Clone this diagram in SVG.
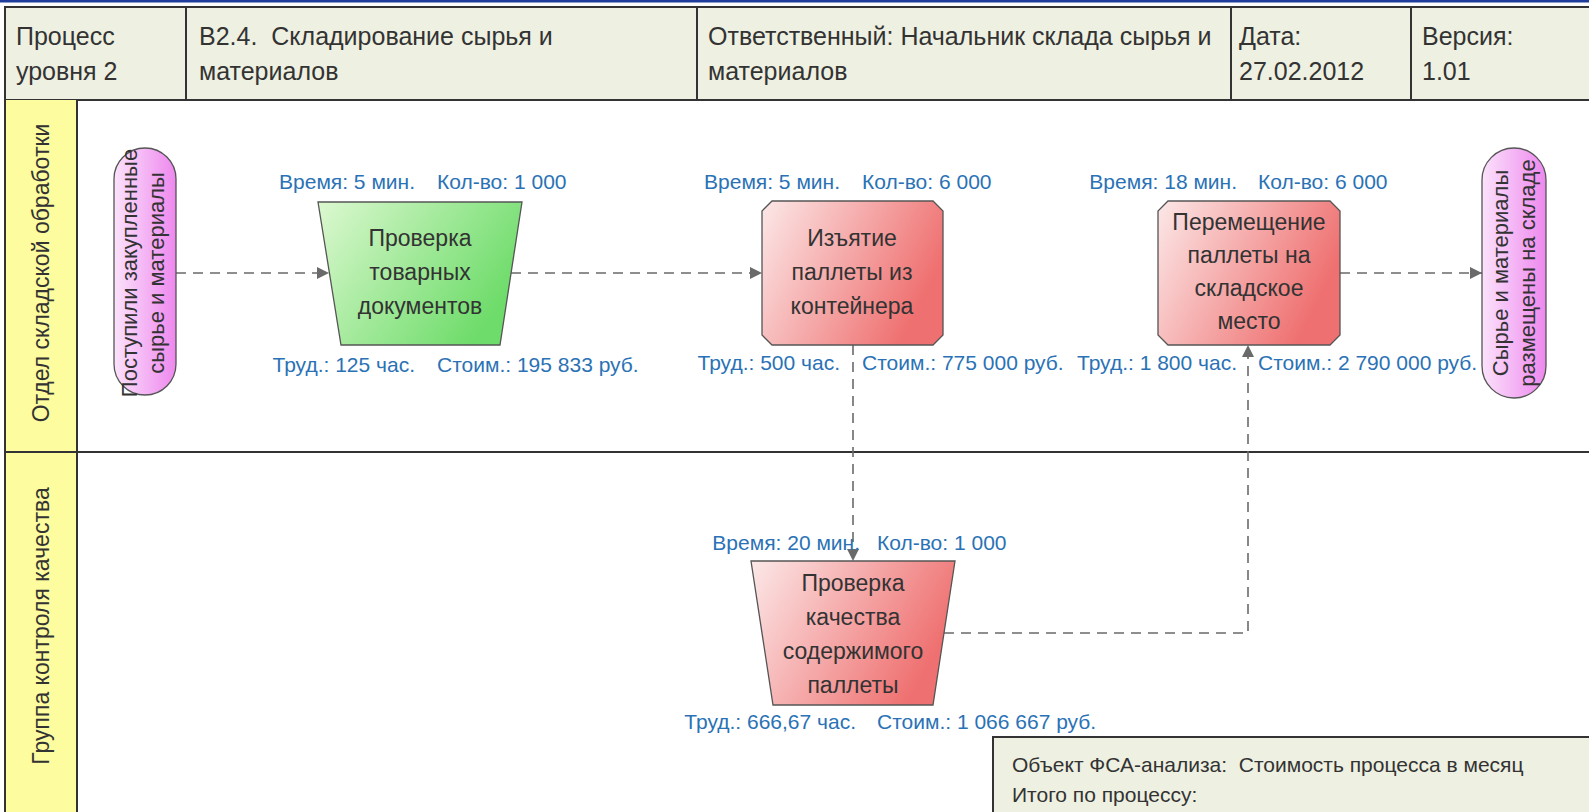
<svg xmlns="http://www.w3.org/2000/svg" width="1589" height="812" viewBox="0 0 1589 812">
<style>
  .hdr { font-family: "Liberation Sans", Arial, sans-serif; font-size: 25px; fill: #333; white-space: pre; }
  .lane { font-family: "Liberation Sans", Arial, sans-serif; font-size: 23px; fill: #333; }
  .nt { font-family: "Liberation Sans", Arial, sans-serif; font-size: 23px; fill: #333; text-anchor: middle; }
  .pt { font-family: "Liberation Sans", Arial, sans-serif; font-size: 22px; fill: #333; text-anchor: middle; }
  .lbl { font-family: "Liberation Sans", Arial, sans-serif; font-size: 21px; fill: #2a72b5; }
  .lblL { text-anchor: end; }
  .note { font-family: "Liberation Sans", Arial, sans-serif; font-size: 21px; fill: #333; white-space: pre; }
  .frame { stroke: #333; stroke-width: 2; }
  .shape { stroke: #555; stroke-width: 1.3; }
  .conn { fill: none; stroke: #6a6a6a; stroke-width: 1.6; stroke-dasharray: 10 7; }
</style>
<defs>
  <linearGradient id="gGreen" x1="0" y1="0" x2="1" y2="0.5">
    <stop offset="0" stop-color="#dcf8d0"/>
    <stop offset="1" stop-color="#6edc6a"/>
  </linearGradient>
  <linearGradient id="gRed" x1="0" y1="0" x2="1" y2="0.4">
    <stop offset="0" stop-color="#fce8e8"/>
    <stop offset="1" stop-color="#ef7070"/>
  </linearGradient>
  <linearGradient id="gPink" x1="0" y1="0" x2="1" y2="0">
    <stop offset="0" stop-color="#fbe2fb"/>
    <stop offset="1" stop-color="#ee88ee"/>
  </linearGradient>
  <marker id="arr" viewBox="0 0 10 10" refX="10" refY="5" markerWidth="12" markerHeight="12" markerUnits="userSpaceOnUse" orient="auto">
    <path d="M0,0 L10,5 L0,10 z" fill="#6a6a6a"/>
  </marker>
</defs>

<rect x="0" y="0" width="1589" height="812" fill="#ffffff"/>
<rect x="0" y="0" width="1589" height="2.5" fill="#1f3d9c"/>

<g id="header">
  <rect class="frame" x="5" y="7" width="1600" height="93" fill="#eef0e1"/>
  <line class="frame" x1="186" y1="7" x2="186" y2="100"/>
  <line class="frame" x1="697" y1="7" x2="697" y2="100"/>
  <line class="frame" x1="1231" y1="7" x2="1231" y2="100"/>
  <line class="frame" x1="1411" y1="7" x2="1411" y2="100"/>
  <text class="hdr" x="16" y="45">Процесс</text>
  <text class="hdr" x="16" y="80">уровня 2</text>
  <text class="hdr" x="199" y="45">B2.4.  Складирование сырья и</text>
  <text class="hdr" x="199" y="80">материалов</text>
  <text class="hdr" x="708" y="45">Ответственный: Начальник склада сырья и</text>
  <text class="hdr" x="708" y="80">материалов</text>
  <text class="hdr" x="1239" y="45">Дата:</text>
  <text class="hdr" x="1239" y="80">27.02.2012</text>
  <text class="hdr" x="1422" y="45">Версия:</text>
  <text class="hdr" x="1422" y="80">1.01</text>
</g>

<g id="lanes">
  <rect x="5" y="100" width="72" height="352" fill="#fdfc9e"/>
  <rect x="5" y="452" width="72" height="380" fill="#fdfc9e"/>
  <line class="frame" x1="5" y1="100" x2="5" y2="812"/>
  <line class="frame" x1="77" y1="100" x2="77" y2="812"/>
  <line class="frame" x1="5" y1="452" x2="1589" y2="452"/>
  <text class="lane" text-anchor="middle" transform="translate(49,273) rotate(-90)">Отдел складской обработки</text>
  <text class="lane" text-anchor="middle" transform="translate(49,626) rotate(-90)">Группа контроля качества</text>
</g>

<g id="connectors">
  <line class="conn" x1="176" y1="273" x2="329" y2="273" marker-end="url(#arr)"/>
  <line class="conn" x1="511" y1="273" x2="762" y2="273" marker-end="url(#arr)"/>
  <line class="conn" x1="853" y1="345" x2="853" y2="561" marker-end="url(#arr)"/>
  <polyline class="conn" points="944,633 1248,633 1248,345" marker-end="url(#arr)"/>
  <line class="conn" x1="1340" y1="273" x2="1482" y2="273" marker-end="url(#arr)"/>
</g>

<g id="start">
  <rect class="shape" x="114" y="148" width="62" height="247" rx="31" ry="31" fill="url(#gPink)"/>
  <text class="pt" transform="translate(137,273) rotate(-90)">Поступили закупленные</text>
  <text class="pt" transform="translate(164,273) rotate(-90)">сырье и материалы</text>
</g>

<g id="checkDocs">
  <polygon class="shape" points="318,202 522,202 500,345 341,345" fill="url(#gGreen)"/>
  <text class="nt" x="420" y="246">Проверка</text>
  <text class="nt" x="420" y="280">товарных</text>
  <text class="nt" x="420" y="314">документов</text>
  <text class="lbl lblL" x="415" y="189">Время: 5 мин.</text>
  <text class="lbl" x="437" y="189">Кол-во: 1 000</text>
  <text class="lbl lblL" x="415" y="372">Труд.: 125 час.</text>
  <text class="lbl" x="437" y="372">Стоим.: 195 833 руб.</text>
</g>

<g id="extract">
  <polygon class="shape" points="772,201 933,201 943,211 943,335 933,345 772,345 762,335 762,211" fill="url(#gRed)"/>
  <text class="nt" x="852" y="246">Изъятие</text>
  <text class="nt" x="852" y="280">паллеты из</text>
  <text class="nt" x="852" y="314">контейнера</text>
  <text class="lbl lblL" x="840" y="189">Время: 5 мин.</text>
  <text class="lbl" x="862" y="189">Кол-во: 6 000</text>
  <text class="lbl lblL" x="840" y="370">Труд.: 500 час.</text>
  <text class="lbl" x="862" y="370">Стоим.: 775 000 руб.</text>
</g>

<g id="move">
  <polygon class="shape" points="1168,201 1330,201 1340,211 1340,335 1330,345 1168,345 1158,335 1158,211" fill="url(#gRed)"/>
  <text class="nt" x="1249" y="230">Перемещение</text>
  <text class="nt" x="1249" y="263">паллеты на</text>
  <text class="nt" x="1249" y="296">складское</text>
  <text class="nt" x="1249" y="329">место</text>
  <text class="lbl lblL" x="1237" y="189">Время: 18 мин.</text>
  <text class="lbl" x="1258" y="189">Кол-во: 6 000</text>
  <text class="lbl lblL" x="1237" y="370">Труд.: 1 800 час.</text>
  <text class="lbl" x="1258" y="370">Стоим.: 2 790 000 руб.</text>
</g>

<g id="end">
  <rect class="shape" x="1482" y="148" width="64" height="250" rx="32" ry="32" fill="url(#gPink)"/>
  <text class="pt" transform="translate(1508,273) rotate(-90)">Сырье и материалы</text>
  <text class="pt" transform="translate(1535,273) rotate(-90)">размещены на складе</text>
</g>

<g id="qualityCheck">
  <polygon class="shape" points="751,561 955,561 933,705 773,705" fill="url(#gRed)"/>
  <text class="nt" x="853" y="591">Проверка</text>
  <text class="nt" x="853" y="625">качества</text>
  <text class="nt" x="853" y="659">содержимого</text>
  <text class="nt" x="853" y="693">паллеты</text>
  <text class="lbl lblL" x="860" y="550">Время: 20 мин.</text>
  <text class="lbl" x="877" y="550">Кол-во: 1 000</text>
  <text class="lbl lblL" x="856" y="729">Труд.: 666,67 час.</text>
  <text class="lbl" x="877" y="729">Стоим.: 1 066 667 руб.</text>
</g>

<g id="note">
  <rect class="frame" x="993" y="737" width="620" height="100" fill="#eef0e1"/>
  <text class="note" x="1012" y="772">Объект ФСА-анализа:  Стоимость процесса в месяц</text>
  <text class="note" x="1012" y="802">Итого по процессу:</text>
</g>
</svg>
